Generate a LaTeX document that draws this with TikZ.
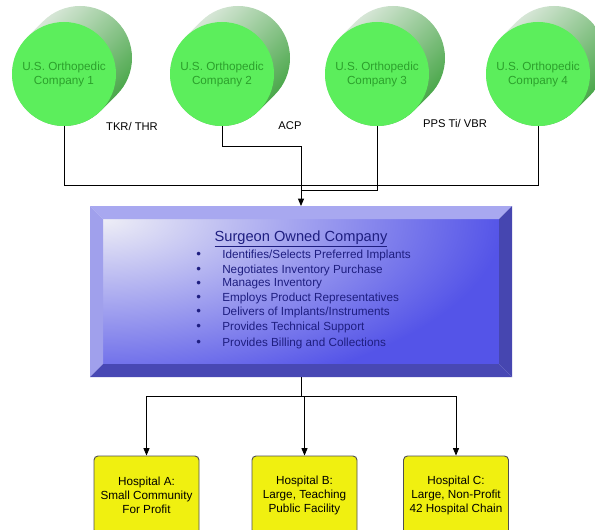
\documentclass[tikz,border=0pt]{standalone}
\usepackage{fontspec}
\setmainfont{Liberation Sans}
\usetikzlibrary{arrows.meta}
\definecolor{discgreen}{RGB}{92,238,92}
\definecolor{textgreen}{RGB}{44,160,44}
\definecolor{shadelight}{RGB}{232,238,232}
\definecolor{shadedark}{RGB}{58,160,58}
\definecolor{bevellight}{RGB}{168,168,240}
\definecolor{bevelleft}{RGB}{160,160,236}
\definecolor{beveldark}{RGB}{70,70,176}
\definecolor{bevelbottom}{RGB}{72,72,180}
\definecolor{facelight}{RGB}{238,238,246}
\definecolor{faceblue}{RGB}{84,84,232}
\definecolor{navytext}{RGB}{30,30,128}
\definecolor{hospyellow}{RGB}{240,240,16}
\definecolor{boxgray}{RGB}{80,80,80}

\begin{document}
\begin{tikzpicture}[x=0.75pt,y=0.75pt,>={Triangle[length=5.5pt,width=4.5pt]}]
\tikzstyle{company}=[circle,fill=discgreen,minimum size=78pt,inner sep=0pt,outer sep=0pt,text=textgreen,align=center,font=\fontsize{8.8}{10.5}\selectfont]
\tikzstyle{discshade}=[top color=shadelight,bottom color=shadedark,shading angle=45]
\tikzstyle{product}=[font=\fontsize{8.4}{10}\selectfont]
\tikzstyle{item}=[anchor=west,inner sep=0pt,text=navytext,font=\fontsize{8.8}{10.5}\selectfont]
\tikzstyle{hospital}=[rectangle,rounded corners=3pt,draw=boxgray,line width=0.7pt,fill=hospyellow,minimum width=78.75pt,minimum height=58.5pt,align=center,font=\fontsize{8.8}{10.5}\selectfont]
\tikzstyle{wire}=[line width=0.6pt]
\useasboundingbox (0,0) rectangle (595,529);

% suppliers
\foreach \i/\x in {1/64,2/222,3/377,4/538}{
  \shade[discshade] (\x+16,471) ++(-45:39pt) arc[start angle=-45,end angle=135,radius=39pt]
    -- ++(-16,-16) arc[start angle=135,end angle=315,radius=39pt] -- cycle;
  \node[company] (c\i) at (\x,455) {U.S. Orthopedic\\Company \i};
}
\node[product] (tkr) at (132,403) {TKR/ THR};
\node[product] (acp) at (290,403) {ACP};
\node[product] (pps) at (455,406) {PPS Ti/ VBR};

% surgeon owned company
\node[minimum width=316.5pt,minimum height=128.25pt,inner sep=0pt,outer sep=0pt] (soc) at (301,237.5) {};
\node[minimum width=297pt,minimum height=108.75pt,inner sep=0pt,outer sep=0pt] (face) at (301,237.5) {};
\begin{scope}
  \clip (face.south west) rectangle (face.north east);
  \fill[faceblue] (face.south west) rectangle (face.north east);
  \shade[inner color=facelight,outer color=faceblue] (face.north west) ellipse[x radius=300pt,y radius=135pt];
\end{scope}
\fill[bevellight] (soc.north west) -- (soc.north east) -- (face.north east) -- (face.north west) -- cycle;
\fill[bevelleft] (soc.north west) -- (face.north west) -- (face.south west) -- (soc.south west) -- cycle;
\fill[beveldark] (soc.north east) -- (soc.south east) -- (face.south east) -- (face.north east) -- cycle;
\fill[bevelbottom] (soc.south west) -- (soc.south east) -- (face.south east) -- (face.south west) -- cycle;
\node[text=navytext,font=\fontsize{11}{13}\selectfont] (title) at (301,290) {\underline{Surgeon Owned Company}};
\foreach \n/\y/\t in {1/274/{Identifies/Selects Preferred Implants},2/259/{Negotiates Inventory Purchase},
  3/245/{Manages Inventory},4/231/{Employs Product Representatives},5/217/{Delivers of Implants/Instruments},
  6/202/{Provides Technical Support},7/186/{Provides Billing and Collections}}{
  \node[item,font=\fontsize{10}{12}\selectfont] (dot\n) at (196,\y) {\textbullet};
  \node[item] (item\n) at (222,\y) {\t};
}

% hospitals
\node[hospital] (hA) at (146.5,34) {Hospital A:\\Small Community\\For Profit};
\node[hospital] (hB) at (304.5,34) {Hospital B:\\Large, Teaching\\Public Facility};
\node[hospital] (hC) at (456,34) {Hospital C:\\Large, Non-Profit\\42 Hospital Chain};

% connectors
\coordinate (merge) at (301,339);
\coordinate (split) at (301,133);
\draw[wire] (c1.south) -- ++(0,-59) -| (c4.south);
\draw[wire,->] (c2.south) -- ++(0,-20) -| (soc.north);
\draw[wire] (c3.south) |- (merge);
\draw[wire] (soc.south) -- (split);
\draw[wire,->] (split) -| (hA.north);
\draw[wire,->] (split) -| (hB.north);
\draw[wire,->] (split) -| (hC.north);
\end{tikzpicture}
\end{document}
